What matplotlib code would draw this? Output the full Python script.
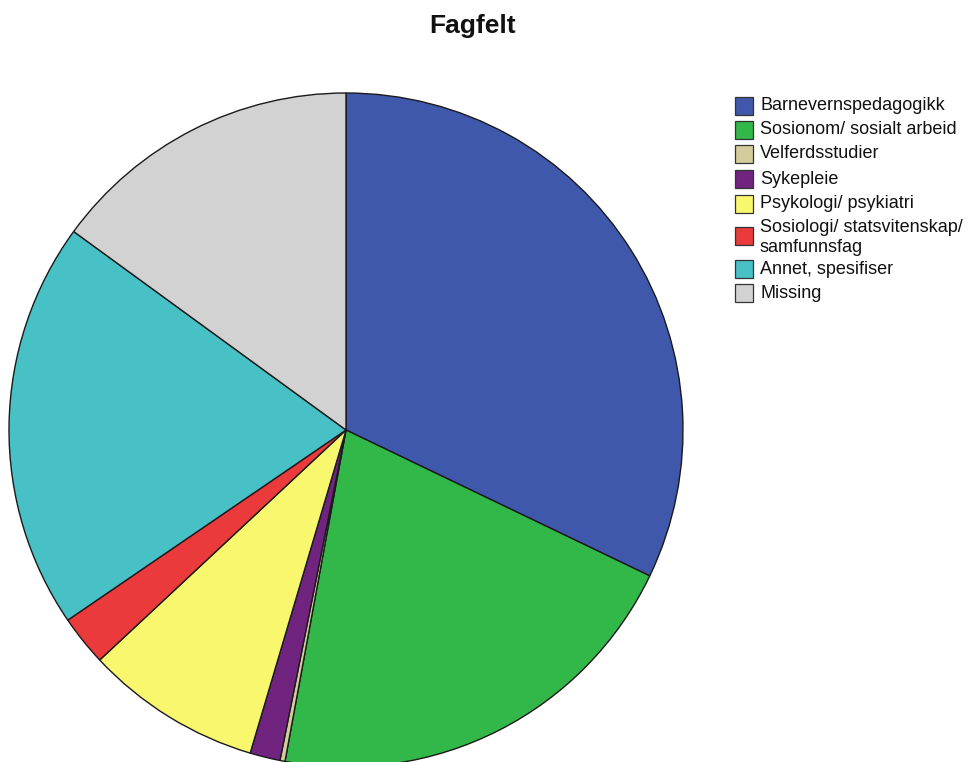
import matplotlib
matplotlib.use("Agg")
import matplotlib.pyplot as plt
from matplotlib.patches import Rectangle

plt.rcParams['font.family'] = ['Liberation Sans', 'DejaVu Sans']

categories = [
    "Barnevernspedagogikk",
    "Sosionom/ sosialt arbeid",
    "Velferdsstudier",
    "Sykepleie",
    "Psykologi/ psykiatri",
    "Sosiologi/ statsvitenskap/\nsamfunnsfag",
    "Annet, spesifiser",
    "Missing",
]
counts = [133, 86, 1, 6, 35, 10, 81, 62]
colors = ["#3f58ab", "#32b749", "#d4cc9c", "#70237f", "#f9f76e",
          "#ea3a3c", "#47c0c6", "#d2d2d2"]

W, H = 973, 762
fig = plt.figure(figsize=(W / 100, H / 100), dpi=100)
ax = fig.add_axes([0, 0, 1, 1])

ax.pie(counts, colors=colors, startangle=90, counterclock=False,
       center=(346, H - 430), radius=337,
       wedgeprops=dict(edgecolor="#1a1a1a", linewidth=1.0), frame=True)
ax.set_xlim(0, W)
ax.set_ylim(0, H)
ax.set_aspect("equal")
ax.axis("off")

ax.text(473, H - 33, "Fagfelt", ha="center", va="baseline",
        fontsize=19, fontweight="bold", color="#111111")

# legend
row_y = [106, 130, 154, 179, 204, 236, 269, 293]
for label, col, y in zip(categories, colors, row_y):
    ax.add_patch(Rectangle((735, H - y - 9), 18, 18, facecolor=col,
                           edgecolor="#333333", linewidth=0.9))
    lines = label.split("\n")
    if len(lines) == 2:
        ax.text(760, H - (y - 9), lines[0], ha="left", va="center",
                fontsize=13, color="#111111")
        ax.text(760, H - (y + 11), lines[1], ha="left", va="center",
                fontsize=13, color="#111111")
    else:
        ax.text(760, H - y, label, ha="left", va="center", fontsize=13,
                color="#111111")

fig.savefig("out.png", dpi=100)
